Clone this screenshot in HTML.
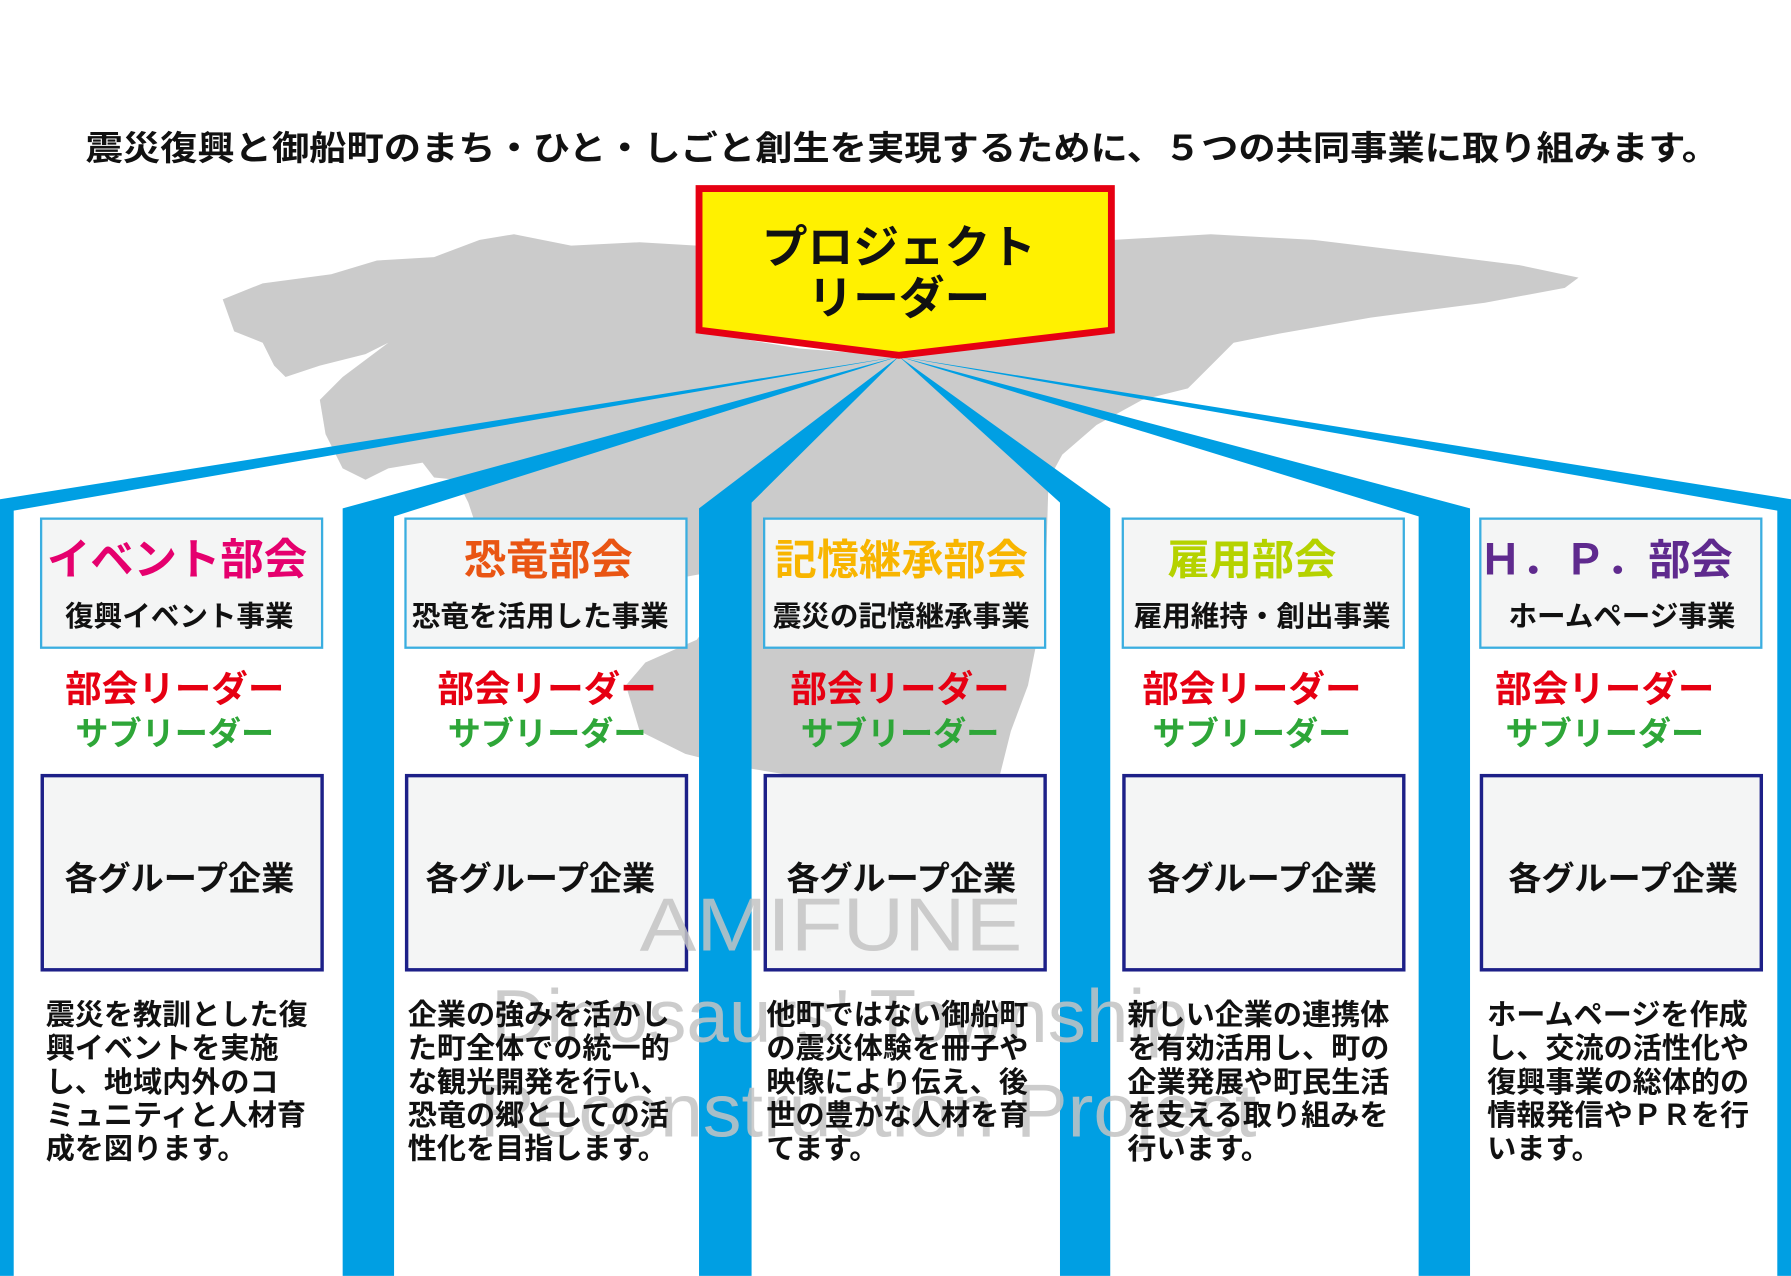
<!DOCTYPE html>
<html><head><meta charset="utf-8"><style>
html,body{margin:0;padding:0;background:#fff;}
svg{display:block;}
text{font-family:"Liberation Sans","Noto Sans CJK JP",sans-serif;font-weight:bold;}
</style></head><body>
<svg width="1791" height="1276" viewBox="0 0 1568 1117" xmlns="http://www.w3.org/2000/svg">
<rect width="1568" height="1117" fill="#fff"/>
<!-- map -->
<path fill="#cbcbcb" d="M195,262 L230,248 L290,240 L330,228 L380,225 L420,210 L450,205 L500,215 L560,212 L610,215 L610,290 L700,305 L787,312 L975,290 L975,210 L1060,205 L1150,210 L1250,222 L1330,232 L1382,243 L1370,252 L1300,265 L1200,278 L1120,292 L1080,300 L1060,320 L1040,340 L1000,350 L960,372 L930,398 L918,420 L915,520 L908,560 L900,600 L885,640 L870,700 L855,720 L790,700 L760,690 L700,680 L640,670 L600,660 L560,640 L548,600 L565,580 L610,560 L640,520 L628,500 L600,505 L560,520 L530,540 L500,510 L495,490 L460,470 L420,470 L410,440 L400,420 L380,418 L370,405 L340,410 L320,420 L300,410 L285,380 L280,350 L300,330 L340,300 L320,310 L280,320 L250,330 L240,320 L230,300 L205,290 Z"/>
<!-- title -->
<text x="75" y="140" font-size="30" textLength="1430" lengthAdjust="spacingAndGlyphs" fill="#111">震災復興と御船町のまち・ひと・しごと創生を実現するために、５つの共同事業に取り組みます。</text>
<!-- bands -->
<g fill="#009fe3">
<polygon points="787,312 0,437 0,1117 12,1117 12,447"/>
<polygon points="787,312 300,445 300,1117 345,1117 345,452"/>
<polygon points="787,312 612,445 612,1117 658,1117 658,440"/>
<polygon points="787,312 928,440 928,1117 972,1117 972,445"/>
<polygon points="787,312 1242,452 1242,1117 1287,1117 1287,445"/>
<polygon points="787,312 1556,447 1556,1117 1568,1117 1568,437"/>
</g>
<!-- leader -->
<polygon points="612,165 973,165 973,289 787,311 612,289" fill="#fff100" stroke="#e60012" stroke-width="6"/>
<text x="787" y="230" font-size="40" text-anchor="middle" fill="#111">プロジェクト</text>
<text x="787" y="275" font-size="40" text-anchor="middle" fill="#111">リーダー</text>
<!-- columns -->
<g>
<rect x="36" y="454" width="246" height="113" fill="#f4f5f5" stroke="#3aaee0" stroke-width="2"/>
<rect x="355" y="454" width="246" height="113" fill="#f4f5f5" stroke="#3aaee0" stroke-width="2"/>
<rect x="669" y="454" width="246" height="113" fill="#f4f5f5" stroke="#3aaee0" stroke-width="2"/>
<rect x="983" y="454" width="246" height="113" fill="#f4f5f5" stroke="#3aaee0" stroke-width="2"/>
<rect x="1296" y="454" width="246" height="113" fill="#f4f5f5" stroke="#3aaee0" stroke-width="2"/>
<text x="155" y="503" font-size="38" text-anchor="middle" fill="#e5006e">イベント部会</text>
<text x="480" y="503" font-size="37" text-anchor="middle" fill="#e95513">恐竜部会</text>
<text x="789" y="503" font-size="37" text-anchor="middle" fill="#f8b500">記憶継承部会</text>
<text x="1096" y="503" font-size="37" text-anchor="middle" fill="#b5d200">雇用部会</text>
<text x="1406" y="503" font-size="37" text-anchor="middle" fill="#5f2a8e">Ｈ．Ｐ．部会</text>
<g font-size="25" text-anchor="middle" fill="#111">
<text x="157" y="548">復興イベント事業</text>
<text x="473" y="548">恐竜を活用した事業</text>
<text x="789" y="548">震災の記憶継承事業</text>
<text x="1105" y="548">雇用維持・創出事業</text>
<text x="1420" y="548">ホームページ事業</text>
</g>
<g font-size="32" text-anchor="middle" fill="#e60012">
<text x="153" y="614">部会リーダー</text>
<text x="479" y="614">部会リーダー</text>
<text x="788" y="614">部会リーダー</text>
<text x="1096" y="614">部会リーダー</text>
<text x="1405" y="614">部会リーダー</text>
</g>
<g font-size="29" text-anchor="middle" fill="#2ea638">
<text x="153" y="652">サブリーダー</text>
<text x="479" y="652">サブリーダー</text>
<text x="788" y="652">サブリーダー</text>
<text x="1096" y="652">サブリーダー</text>
<text x="1405" y="652">サブリーダー</text>
</g>
<g fill="#f4f5f5" stroke="#1d2088" stroke-width="3">
<rect x="37" y="679" width="245" height="170"/>
<rect x="356" y="679" width="245" height="170"/>
<rect x="670" y="679" width="245" height="170"/>
<rect x="984" y="679" width="245" height="170"/>
<rect x="1297" y="679" width="245" height="170"/>
</g>
<g font-size="29" text-anchor="middle" fill="#111">
<text x="157" y="779">各グループ企業</text>
<text x="473" y="779">各グループ企業</text>
<text x="789" y="779">各グループ企業</text>
<text x="1105" y="779">各グループ企業</text>
<text x="1421" y="779">各グループ企業</text>
</g>
<!-- watermark -->
<g fill="#c4c4c4" opacity="0.85">
<text x="560" y="832" font-size="66" textLength="335" lengthAdjust="spacingAndGlyphs" style="font-weight:normal">AMIFUNE</text>
<text x="430" y="912" font-size="66" textLength="610" lengthAdjust="spacingAndGlyphs" style="font-weight:normal">Dinosaurs' Township</text>
<text x="420" y="995" font-size="66" textLength="680" lengthAdjust="spacingAndGlyphs" style="font-weight:normal">Reconstruction Project</text>
</g>
<g font-size="25.5" fill="#111">
<text x="40" y="897">震災を教訓とした復</text>
<text x="40" y="926">興イベントを実施</text>
<text x="40" y="956">し、地域内外のコ</text>
<text x="40" y="985">ミュニティと人材育</text>
<text x="40" y="1014">成を図ります。</text>
<text x="357" y="897">企業の強みを活かし</text>
<text x="357" y="926">た町全体での統一的</text>
<text x="357" y="956">な観光開発を行い、</text>
<text x="357" y="985">恐竜の郷としての活</text>
<text x="357" y="1014">性化を目指します。</text>
<text x="671" y="897">他町ではない御船町</text>
<text x="671" y="926">の震災体験を冊子や</text>
<text x="671" y="956">映像により伝え、後</text>
<text x="671" y="985">世の豊かな人材を育</text>
<text x="671" y="1014">てます。</text>
<text x="987" y="897">新しい企業の連携体</text>
<text x="987" y="926">を有効活用し、町の</text>
<text x="987" y="956">企業発展や町民生活</text>
<text x="987" y="985">を支える取り組みを</text>
<text x="987" y="1014">行います。</text>
<text x="1302" y="897">ホームページを作成</text>
<text x="1302" y="926">し、交流の活性化や</text>
<text x="1302" y="956">復興事業の総体的の</text>
<text x="1302" y="985">情報発信やＰＲを行</text>
<text x="1302" y="1014">います。</text>
</g>
</g>
</svg>
</body></html>
